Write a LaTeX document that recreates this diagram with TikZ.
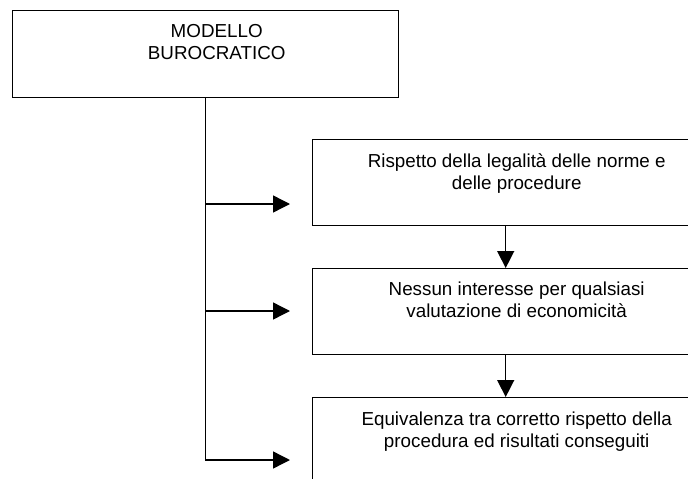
\documentclass[tikz,border=0pt]{standalone}
\usepackage{fontspec}
\setmainfont{Liberation Sans}
\usetikzlibrary{arrows.meta}
\begin{document}
\begin{tikzpicture}[x=1pt,y=-1pt,
  line width=1.4pt,
  box/.style={draw=black, minimum width=386pt, inner sep=0pt, anchor=north west},
  label/.style={align=center, anchor=base, inner sep=0pt,
    font=\fontsize{18.8}{22}\selectfont},
  arr/.style={-{Triangle[length=17pt,width=17pt]}}]
  \useasboundingbox (0,0) rectangle (688,479);
  \clip (0,0) rectangle (688,479);

  % boxes
  \node[box, minimum height=87pt] (top) at (12,10) {};
  \node[box, minimum height=86pt] (b1) at (312,139) {};
  \node[box, minimum height=86pt] (b2) at (312,268) {};
  \node[box, minimum height=90pt] (b3) at (312,397) {};

  % texts (anchored at the baseline of the last line)
  \node[label] (ttop) at ([xshift=11pt,yshift=-49.5pt]top.north) {MODELLO\\BUROCRATICO};
  \node[label] (tb1) at ([xshift=11pt,yshift=-50pt]b1.north) {Rispetto della legalità delle norme e\\delle procedure};
  \node[label] (tb2) at ([xshift=11pt,yshift=-49pt]b2.north) {Nessun interesse per qualsiasi\\valutazione di economicità};
  \node[label] (tb3) at ([xshift=11pt,yshift=-50pt]b3.north) {Equivalenza tra corretto rispetto della\\procedura ed risultati conseguiti};

  % trunk and branches
  \coordinate (j1) at (205,204);
  \coordinate (j2) at (205,311);
  \coordinate (e1) at (290,204);
  \coordinate (e2) at (290,311);
  \coordinate (e3) at (290,460);
  \draw[arr] (top.south) |- (e3);
  \draw[arr] (j1) -- (e1);
  \draw[arr] (j2) -- (e2);

  % chain between boxes
  \draw[arr] (b1.south) -- (b2.north);
  \draw[arr] (b2.south) -- (b3.north);
\end{tikzpicture}
\end{document}
